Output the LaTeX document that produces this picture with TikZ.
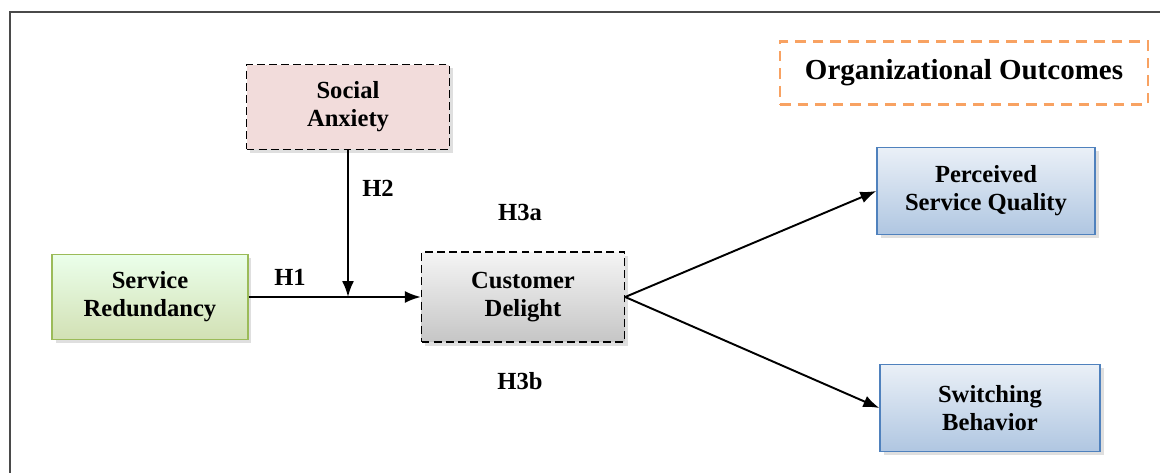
\documentclass[tikz,border=0pt]{standalone}
\usepackage{fontspec}
\setmainfont{Liberation Serif}
\usetikzlibrary{arrows.meta,shadows}
\definecolor{framegray}{HTML}{4A4A4A}
\definecolor{anxpink}{HTML}{F2DCDB}
\definecolor{redgreen}{HTML}{9BBB59}
\definecolor{orgorange}{HTML}{F8A262}
\definecolor{outblue}{HTML}{4F81BD}
\begin{document}
\begin{tikzpicture}[x=0.02cm, y=-0.02cm,
        every node/.style={font=\fontsize{14}{16}\selectfont\bfseries, align=center},
        box/.style={draw, rectangle, inner sep=0pt, line width=0.8pt,
            drop shadow={shadow xshift=2pt, shadow yshift=-2pt, opacity=0.25}},
        dashbox/.style={box, dash pattern=on 4.5pt off 2.4pt},
        link/.style={-{Latex[length=0.32cm,width=0.24cm]}, line width=1.1pt},
        hyp/.style={inner sep=1pt}
    ]
        % Khung ngoai
        \useasboundingbox (0,0) rectangle (1160,473);
        \fill[white] (0,0) rectangle (1160,473);
        \draw[framegray, line width=1.2pt] (10,473) -- (10,12) -- (1160,12);

        % Cac khoi
        \node [dashbox, fill=anxpink, minimum width=4.06cm, minimum height=1.7cm] (anx) at (348,107) {Social\\Anxiety};
        \node [box, draw=redgreen, top color=green!8!white, bottom color=redgreen!45!white,
            minimum width=3.92cm, minimum height=1.7cm] (red) at (150,297) {Service\\Redundancy};
        \node [dashbox, top color=gray!8, bottom color=gray!45,
            minimum width=4.06cm, minimum height=1.8cm] (del) at (523,297) {Customer\\Delight};
        \node [draw=orgorange, dash pattern=on 6pt off 4pt, line width=1.2pt, minimum width=7.36cm, minimum height=1.26cm,
            font=\fontsize{16.5}{19}\selectfont\bfseries] (org) at (964,73) {Organizational Outcomes};
        \node [box, draw=outblue, top color=outblue!12!white, bottom color=outblue!45!white,
            minimum width=4.36cm, minimum height=1.74cm] (psq) at (986,191) {Perceived\\Service Quality};
        \node [box, draw=outblue, top color=outblue!12!white, bottom color=outblue!45!white,
            minimum width=4.4cm, minimum height=1.74cm] (swb) at (990,408) {Switching\\Behavior};

        % Cac mui ten
        \coordinate (j) at (anx.south |- red.east);
        \draw[link] (red.east) -- (del.west);
        \draw[link] (anx.south) -- (j);
        \draw[link] (del.east) -- (psq.west);
        \draw[link] (del.east) -- (swb.west);

        % Nhan gia thuyet
        \node [hyp] (h1) at (290,277) {H1};
        \node [hyp] (h2) at (378,188) {H2};
        \node [hyp] (h3a) at (520,212) {H3a};
        \node [hyp] (h3b) at (520,381) {H3b};
    \end{tikzpicture}
\end{document}
